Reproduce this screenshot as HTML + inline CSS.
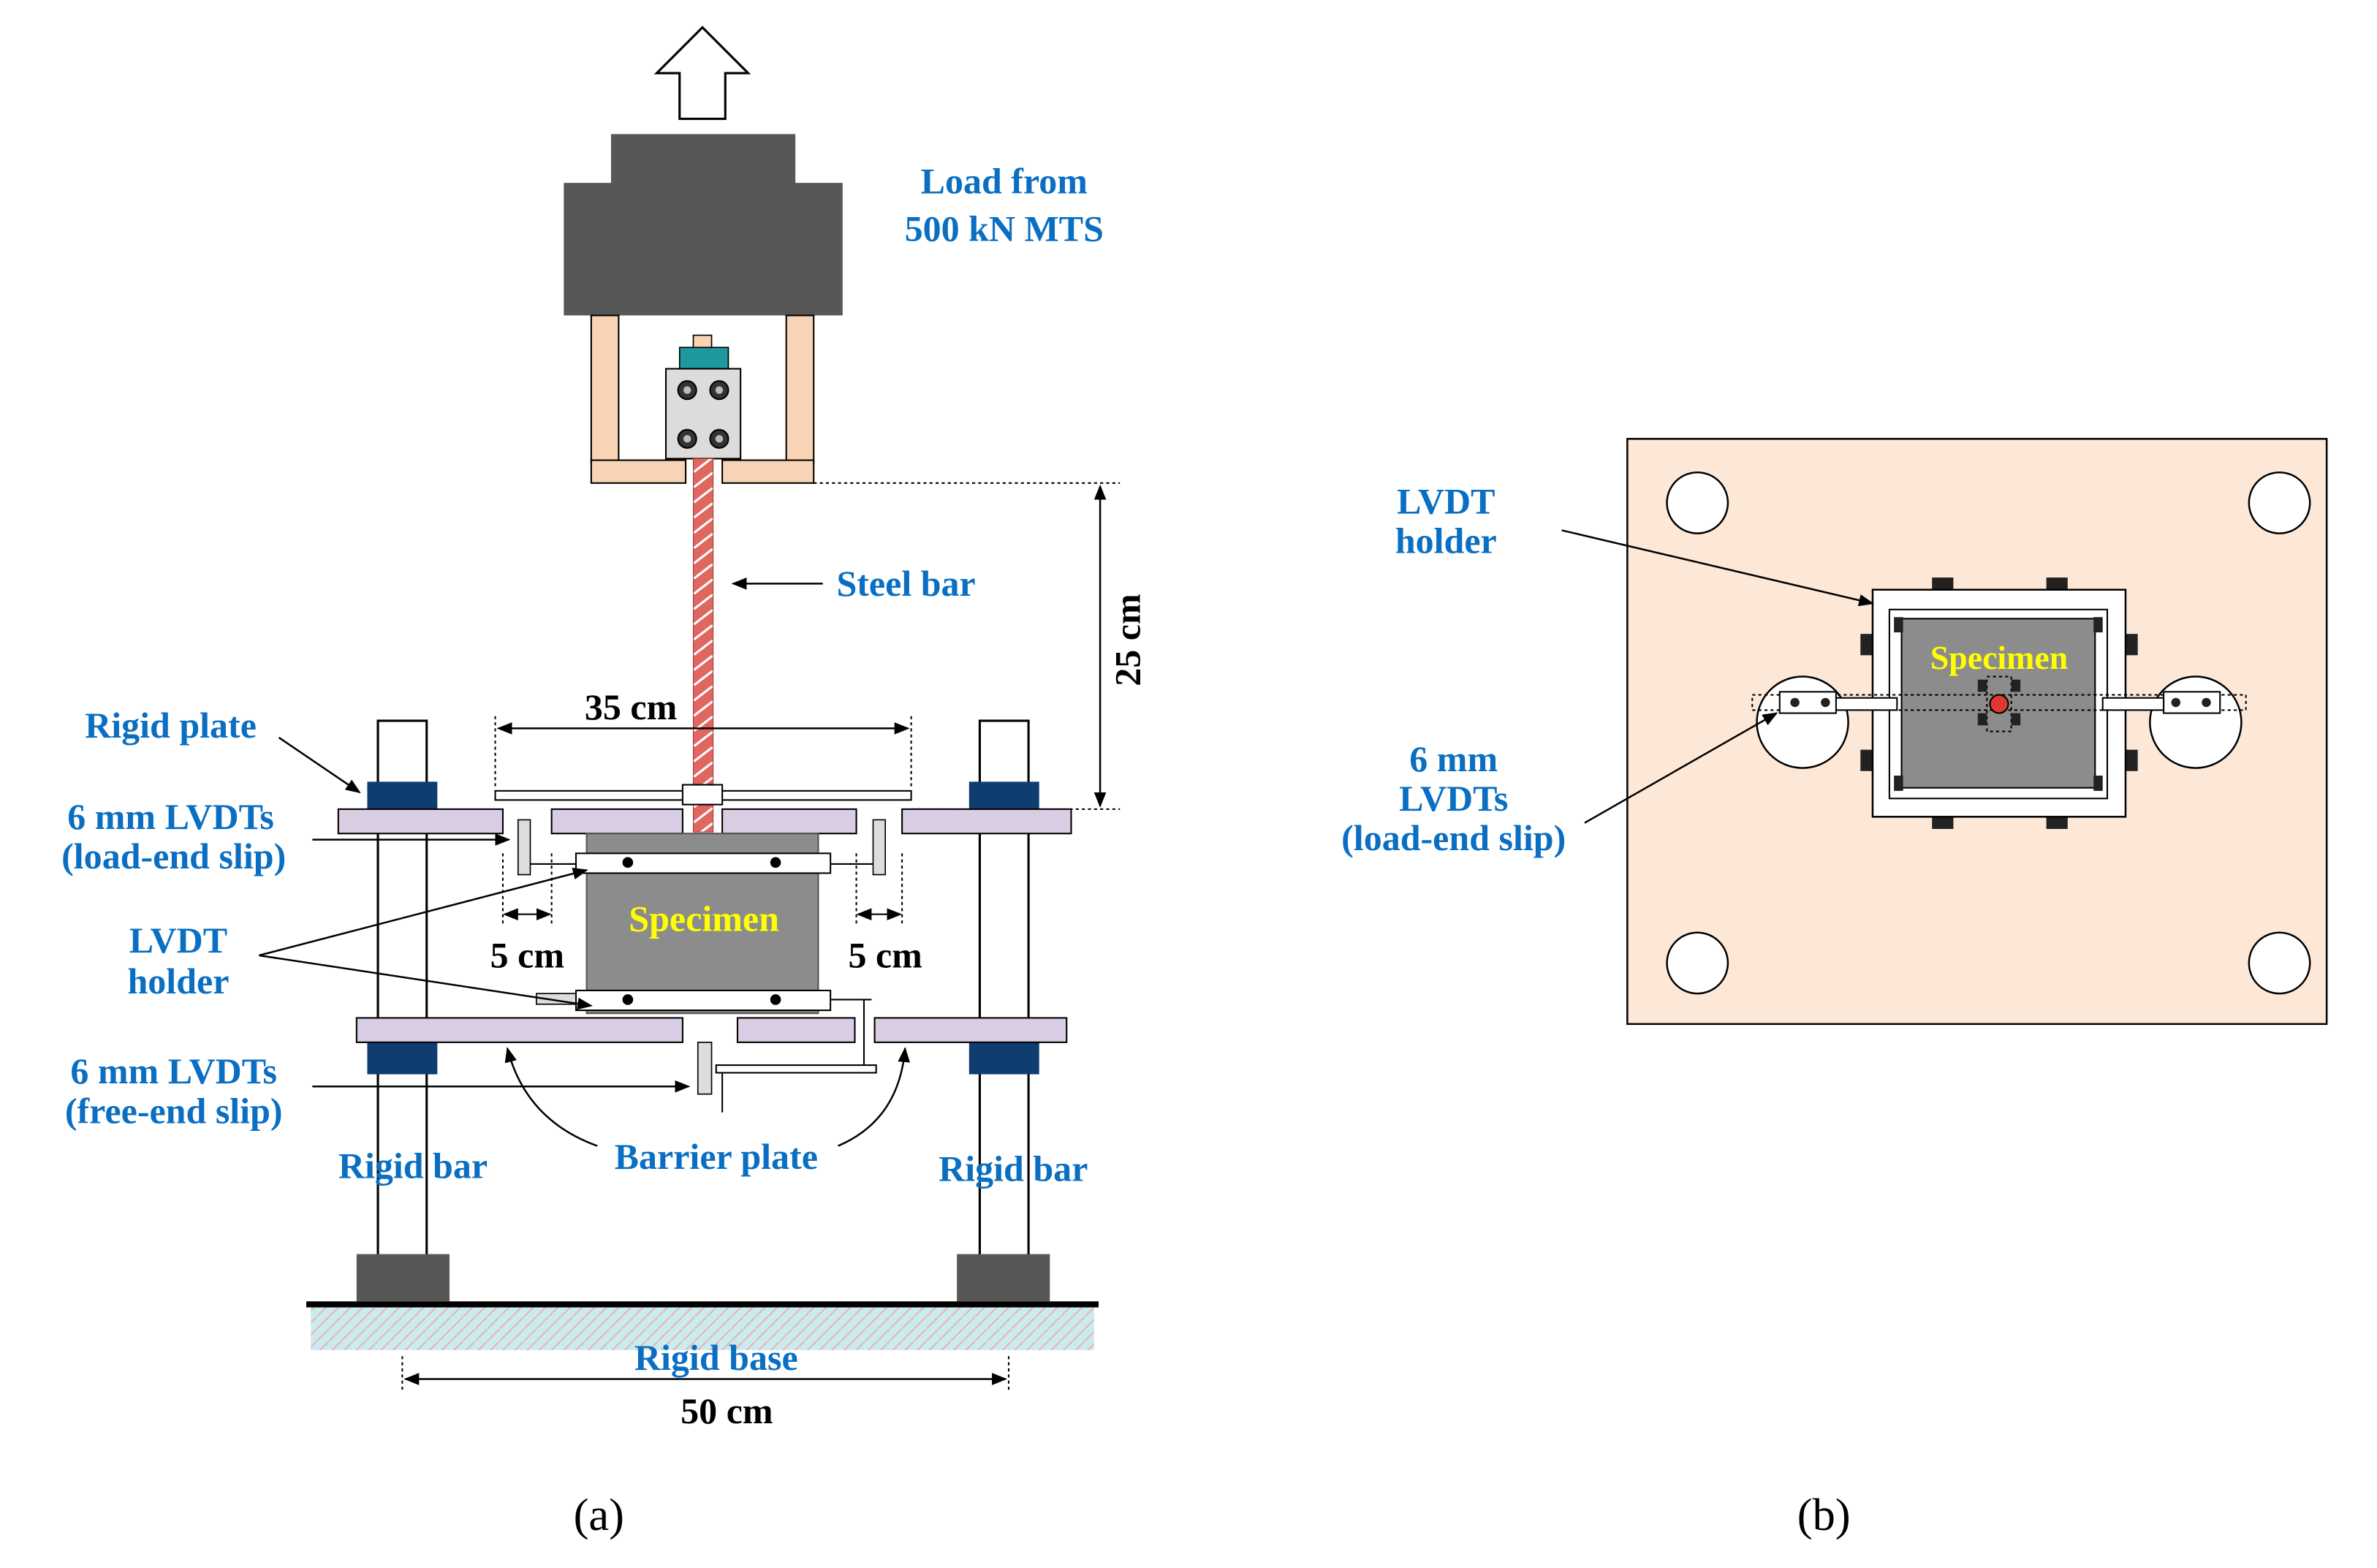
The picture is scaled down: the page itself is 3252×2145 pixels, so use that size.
<!DOCTYPE html>
<html><head><meta charset="utf-8"><style>html,body{margin:0;padding:0;background:#fff}svg{display:block}</style></head>
<body>
<svg width="3252" height="2145" viewBox="0 0 1560 1029" xmlns="http://www.w3.org/2000/svg" font-family="Liberation Serif, serif">
<defs>
<marker id="ar" markerWidth="10" markerHeight="8" refX="9" refY="4" orient="auto" markerUnits="userSpaceOnUse"><path d="M0,0 L10,4 L0,8 z" fill="#000"/></marker>
<marker id="as" markerWidth="10" markerHeight="8" refX="1" refY="4" orient="auto" markerUnits="userSpaceOnUse"><path d="M10,0 L0,4 L10,8 z" fill="#000"/></marker>
<pattern id="hb" width="8" height="8" patternUnits="userSpaceOnUse"><rect width="8" height="8" fill="#c9ecf0"/><path d="M0,8 L8,0" stroke="#f0b0b0" stroke-width="1"/></pattern>
<pattern id="sb" width="13" height="10" patternUnits="userSpaceOnUse"><rect width="13" height="10" fill="#e06660"/><path d="M0,10 L13,0" stroke="#fff" stroke-width="1.5"/></pattern>
</defs>
<rect width="1560" height="1029" fill="#fff"/>
<path d="M446,78 L446,48 L431,48 L461,18 L491,48 L476,48 L476,78 z" fill="#fff" stroke="#000" stroke-width="1.5"/>
<rect x="401" y="88" width="121" height="33" fill="#575757"/>
<rect x="370" y="120" width="183" height="87" fill="#575757"/>
<g fill="#f9d4b4" stroke="#000" stroke-width="1">
<rect x="388" y="207" width="18" height="97"/><rect x="388" y="302" width="62" height="15"/>
<rect x="516" y="207" width="18" height="97"/><rect x="474" y="302" width="60" height="15"/>
</g>
<rect x="455" y="220" width="12" height="9" fill="#f9d4b4" stroke="#000" stroke-width="0.8"/>
<rect x="446" y="228" width="32" height="14" fill="#1c9aa0" stroke="#000" stroke-width="0.8"/>
<rect x="437" y="242" width="49" height="59" fill="#dcdcdc" stroke="#000"/>
<g fill="#333" stroke="#000"><circle cx="451" cy="256" r="6"/><circle cx="472" cy="256" r="6"/><circle cx="451" cy="288" r="6"/><circle cx="472" cy="288" r="6"/></g>
<g fill="#bbb"><circle cx="451" cy="256" r="2.5"/><circle cx="472" cy="256" r="2.5"/><circle cx="451" cy="288" r="2.5"/><circle cx="472" cy="288" r="2.5"/></g>
<rect x="455" y="301" width="13" height="245" fill="url(#sb)" stroke="#a33" stroke-width="0.5"/>
<line x1="534" y1="317" x2="735" y2="317" stroke="#000" stroke-dasharray="2,2"/>
<line x1="598" y1="531" x2="735" y2="531" stroke="#000" stroke-dasharray="2,2"/>
<line x1="722" y1="319" x2="722" y2="529" stroke="#000" stroke-width="1.2" marker-start="url(#as)" marker-end="url(#ar)"/>
<text x="740" y="420" font-size="24" font-weight="bold" transform="rotate(-90 740 420)" text-anchor="middle" dominant-baseline="central">25 cm</text>
<rect x="248" y="473" width="32" height="351" fill="#fff" stroke="#000" stroke-width="1.5"/>
<rect x="643" y="473" width="32" height="351" fill="#fff" stroke="#000" stroke-width="1.5"/>
<g fill="#0f3d70"><rect x="241" y="513" width="46" height="33"/><rect x="636" y="513" width="46" height="33"/><rect x="241" y="683" width="46" height="22"/><rect x="636" y="683" width="46" height="22"/></g>
<line x1="325" y1="470" x2="325" y2="518" stroke="#000" stroke-dasharray="2,2"/>
<line x1="598" y1="470" x2="598" y2="518" stroke="#000" stroke-dasharray="2,2"/>
<line x1="327" y1="478" x2="596" y2="478" stroke="#000" stroke-width="1.2" marker-start="url(#as)" marker-end="url(#ar)"/>
<text x="414" y="472" font-size="24" font-weight="bold" text-anchor="middle">35 cm</text>
<rect x="325" y="519" width="273" height="6" fill="#fff" stroke="#000"/>
<rect x="448" y="515" width="26" height="13" fill="#fff" stroke="#000"/>
<g fill="#d9cde3" stroke="#000" stroke-width="1">
<rect x="222" y="531" width="108" height="16"/><rect x="592" y="531" width="111" height="16"/>
<rect x="362" y="531" width="86" height="16"/><rect x="474" y="531" width="88" height="16"/>
<rect x="234" y="668" width="214" height="16"/><rect x="484" y="668" width="77" height="16"/><rect x="574" y="668" width="126" height="16"/>
</g>
<rect x="385" y="547" width="152" height="118" fill="#8c8c8c" stroke="#555"/>
<text x="462" y="611" font-size="24" font-weight="bold" fill="#ffff00" text-anchor="middle">Specimen</text>
<g fill="#ddd" stroke="#000" stroke-width="0.8">
<rect x="340" y="538" width="8" height="36"/><rect x="573" y="538" width="8" height="36"/>
<rect x="352" y="652" width="26" height="7"/><rect x="458" y="684" width="9" height="34"/>
</g>
<rect x="378" y="560" width="167" height="13" fill="#fff" stroke="#000"/>
<rect x="378" y="650" width="167" height="13" fill="#fff" stroke="#000"/>
<g fill="#000"><circle cx="412" cy="566" r="3.5"/><circle cx="509" cy="566" r="3.5"/><circle cx="412" cy="656" r="3.5"/><circle cx="509" cy="656" r="3.5"/></g>
<line x1="348" y1="567" x2="378" y2="567" stroke="#000"/><line x1="545" y1="567" x2="573" y2="567" stroke="#000"/>
<line x1="545" y1="656" x2="572" y2="656" stroke="#000"/><line x1="567" y1="656" x2="567" y2="700" stroke="#000"/>
<rect x="470" y="699" width="105" height="5" fill="#fff" stroke="#000"/>
<line x1="474" y1="704" x2="474" y2="730" stroke="#000"/>
<line x1="330" y1="560" x2="330" y2="606" stroke="#000" stroke-dasharray="2,2"/><line x1="362" y1="560" x2="362" y2="606" stroke="#000" stroke-dasharray="2,2"/>
<line x1="331" y1="600" x2="361" y2="600" stroke="#000" marker-end="url(#ar)" marker-start="url(#as)"/>
<line x1="562" y1="560" x2="562" y2="606" stroke="#000" stroke-dasharray="2,2"/><line x1="592" y1="560" x2="592" y2="606" stroke="#000" stroke-dasharray="2,2"/>
<line x1="563" y1="600" x2="591" y2="600" stroke="#000" marker-end="url(#ar)" marker-start="url(#as)"/>
<text x="346" y="635" font-size="24" font-weight="bold" text-anchor="middle">5 cm</text>
<text x="581" y="635" font-size="24" font-weight="bold" text-anchor="middle">5 cm</text>
<g stroke="#000" stroke-width="1.2" fill="none">
<line x1="183" y1="484" x2="236" y2="520" marker-end="url(#ar)"/>
<line x1="205" y1="551" x2="334" y2="551" marker-end="url(#ar)"/>
<line x1="170" y1="627" x2="385" y2="571" marker-end="url(#ar)"/>
<line x1="170" y1="627" x2="388" y2="660" marker-end="url(#ar)"/>
<line x1="205" y1="713" x2="452" y2="713" marker-end="url(#ar)"/>
<path d="M392,752 Q345,735 333,688" marker-end="url(#ar)"/>
<path d="M550,752 Q590,735 594,688" marker-end="url(#ar)"/>
</g>
<rect x="234" y="823" width="61" height="31" fill="#575757"/>
<rect x="628" y="823" width="61" height="31" fill="#575757"/>
<rect x="204" y="858" width="514" height="28" fill="url(#hb)"/>
<line x1="201" y1="856" x2="721" y2="856" stroke="#000" stroke-width="4"/>
<line x1="264" y1="890" x2="264" y2="913" stroke="#000" stroke-dasharray="2,2"/><line x1="662" y1="890" x2="662" y2="913" stroke="#000" stroke-dasharray="2,2"/>
<line x1="266" y1="905" x2="660" y2="905" stroke="#000" stroke-width="1.2" marker-start="url(#as)" marker-end="url(#ar)"/>
<text x="477" y="934" font-size="24" font-weight="bold" text-anchor="middle">50 cm</text>
<text x="393" y="1004" font-size="30" text-anchor="middle">(a)</text>
<text x="1197" y="1004" font-size="30" text-anchor="middle">(b)</text>
<rect x="1068" y="288" width="459" height="384" fill="#fde8d8" stroke="#000" stroke-width="1.2"/>
<g fill="#fff" stroke="#000" stroke-width="1.2">
<circle cx="1114" cy="330" r="20"/><circle cx="1496" cy="330" r="20"/><circle cx="1114" cy="632" r="20"/><circle cx="1496" cy="632" r="20"/>
<circle cx="1183" cy="474" r="30"/><circle cx="1441" cy="474" r="30"/>
</g>
<g fill="#222">
<rect x="1268" y="379" width="14" height="8"/><rect x="1343" y="379" width="14" height="8"/>
<rect x="1268" y="536" width="14" height="8"/><rect x="1343" y="536" width="14" height="8"/>
<rect x="1221" y="416" width="8" height="14"/><rect x="1221" y="492" width="8" height="14"/>
<rect x="1395" y="416" width="8" height="14"/><rect x="1395" y="492" width="8" height="14"/>
</g>
<rect x="1229" y="387" width="166" height="149" fill="#fff" stroke="#000" stroke-width="1.2"/>
<rect x="1240" y="400" width="143" height="124" fill="#fff" stroke="#000"/>
<rect x="1248" y="406" width="127" height="111" fill="#8c8c8c" stroke="#000"/>
<g fill="#222"><rect x="1243" y="405" width="6" height="10"/><rect x="1374" y="405" width="6" height="10"/><rect x="1243" y="509" width="6" height="10"/><rect x="1374" y="509" width="6" height="10"/></g>
<text x="1312" y="439" font-size="22" font-weight="bold" fill="#ffff00" text-anchor="middle">Specimen</text>
<rect x="1150" y="456" width="324" height="10" fill="none" stroke="#000" stroke-dasharray="2,2"/>
<rect x="1205" y="458" width="40" height="8" fill="#fff" stroke="#000"/><rect x="1380" y="458" width="40" height="8" fill="#fff" stroke="#000"/>
<rect x="1168" y="454" width="37" height="14" fill="#fff" stroke="#000"/><rect x="1420" y="454" width="37" height="14" fill="#fff" stroke="#000"/>
<g fill="#222"><circle cx="1178" cy="461" r="3"/><circle cx="1198" cy="461" r="3"/><circle cx="1428" cy="461" r="3"/><circle cx="1448" cy="461" r="3"/></g>
<rect x="1304" y="444" width="16" height="36" fill="none" stroke="#000" stroke-dasharray="2,2"/>
<g fill="#222"><rect x="1298" y="446" width="6" height="8"/><rect x="1320" y="446" width="6" height="8"/><rect x="1298" y="468" width="6" height="8"/><rect x="1320" y="468" width="6" height="8"/></g>
<circle cx="1312" cy="462" r="6" fill="#e03a30" stroke="#000"/>
<line x1="1025" y1="348" x2="1229" y2="396" stroke="#000" stroke-width="1.2" marker-end="url(#ar)"/>
<line x1="1040" y1="540" x2="1166" y2="468" stroke="#000" stroke-width="1.2" marker-end="url(#ar)"/>
<line x1="540" y1="383" x2="481" y2="383" stroke="#000" stroke-width="1.2" marker-end="url(#ar)"/>
<g fill="#0a6fc2" font-size="24" font-weight="bold">
<text x="549" y="391">Steel bar</text>
<text x="659" y="127" text-anchor="middle">Load from</text>
<text x="659" y="158" text-anchor="middle">500 kN MTS</text>
<text x="112" y="484" text-anchor="middle">Rigid plate</text>
<text x="112" y="544" text-anchor="middle">6 mm LVDTs</text>
<text x="114" y="570" text-anchor="middle">(load-end slip)</text>
<text x="117" y="625" text-anchor="middle">LVDT</text>
<text x="117" y="652" text-anchor="middle">holder</text>
<text x="114" y="711" text-anchor="middle">6 mm LVDTs</text>
<text x="114" y="737" text-anchor="middle">(free-end slip)</text>
<text x="271" y="773" text-anchor="middle">Rigid bar</text>
<text x="470" y="767" text-anchor="middle">Barrier plate</text>
<text x="665" y="775" text-anchor="middle">Rigid bar</text>
<text x="470" y="899" text-anchor="middle">Rigid base</text>
<text x="949" y="337" text-anchor="middle">LVDT</text>
<text x="949" y="363" text-anchor="middle">holder</text>
<text x="954" y="506" text-anchor="middle">6 mm</text>
<text x="954" y="532" text-anchor="middle">LVDTs</text>
<text x="954" y="558" text-anchor="middle">(load-end slip)</text>
</g>
</svg>
</body></html>
